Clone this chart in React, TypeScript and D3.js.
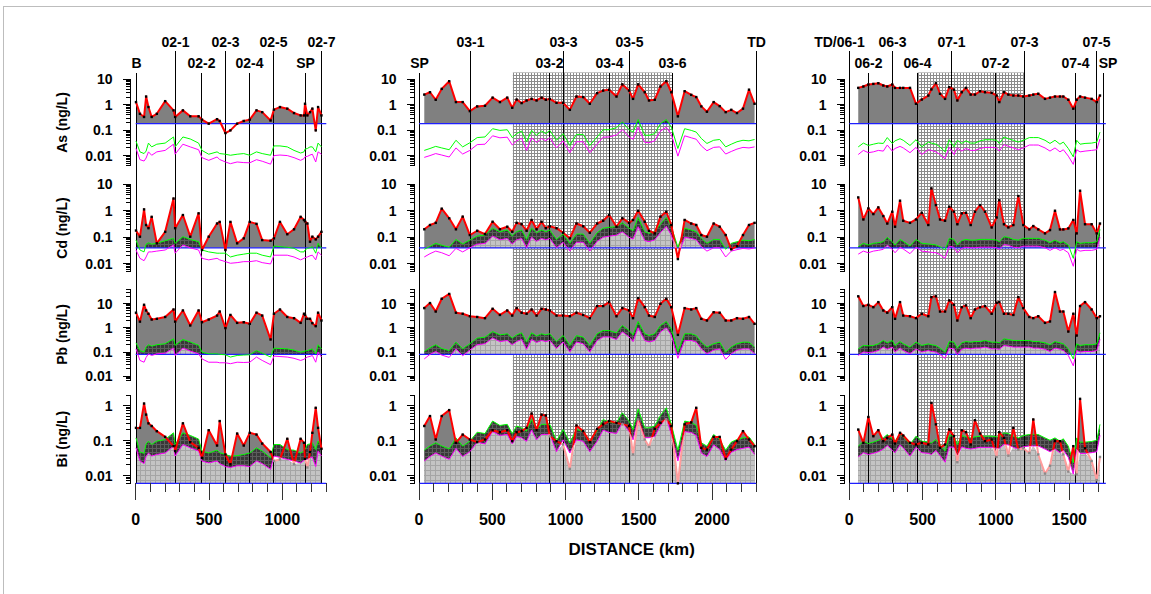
import React from 'react';
import * as d3 from 'd3';

// ---------------- DATA ----------------
const ELEMENTS = ['As', 'Cd', 'Pb', 'Bi'];
const ELEMENT_DOMAINS = [[0.004, 10], [0.005, 10], [0.007, 40], [0.006, 2]];
const DETECTION_LIMITS = [0.18, 0.04, 0.08, 0.006];

// Left section (2002)
const LEFT_KM = [2, 29, 57, 71, 87, 109, 144, 201, 258, 269, 322, 372, 429, 452, 498, 555, 573, 612, 646, 692, 737, 778, 824, 863, 920, 943, 984, 1034, 1080, 1125, 1148, 1155, 1171, 1189, 1205, 1228, 1244, 1267];
const LEFT_AS = [1.27, 0.44, 0.33, 2.1, 0.81, 0.33, 0.44, 1.38, 0.6, 0.33, 0.6, 0.35, 0.35, 0.26, 0.18, 0.27, 0.23, 0.077, 0.098, 0.18, 0.23, 0.26, 0.6, 0.51, 0.24, 0.64, 0.81, 0.7, 0.47, 0.38, 0.38, 1.09, 0.38, 0.51, 0.7, 0.098, 0.81, 0.38];
const LEFT_AS_HI = [0.037, 0.014, 0.012, 0.015, 0.031, 0.022, 0.028, 0.031, 0.054, 0.022, 0.054, 0.045, 0.031, 0.016, 0.0113, 0.014, 0.012, 0.0113, 0.0103, 0.0113, 0.012, 0.0103, 0.014, 0.012, 0.0103, 0.024, 0.024, 0.022, 0.016, 0.0126, 0.014, 0.018, 0.019, 0.022, 0.022, 0.014, 0.031, 0.022];
const LEFT_AS_LO = [0.019, 0.0069, 0.0061, 0.008, 0.014, 0.0103, 0.014, 0.016, 0.028, 0.0113, 0.028, 0.022, 0.017, 0.0083, 0.0065, 0.0088, 0.007, 0.0056, 0.0048, 0.0056, 0.0053, 0.0052, 0.0069, 0.006, 0.0046, 0.01, 0.0105, 0.01, 0.0083, 0.0065, 0.0076, 0.009, 0.0093, 0.0105, 0.0113, 0.0056, 0.014, 0.0113];
const LEFT_CD = [0.18, 0.105, 1.13, 0.29, 0.22, 0.59, 0.059, 0.16, 2.9, 0.22, 0.69, 0.105, 0.8, 0.033, 0.105, 0.33, 0.38, 0.033, 0.38, 0.059, 0.091, 0.38, 0.32, 0.078, 0.074, 0.091, 0.38, 0.13, 0.2, 0.59, 0.45, 0.4, 0.33, 0.068, 0.105, 0.083, 0.105, 0.16];
const LEFT_CD_HI = [0.078, 0.033, 0.028, 0.055, 0.062, 0.055, 0.059, 0.074, 0.091, 0.059, 0.105, 0.083, 0.068, 0.033, 0.028, 0.025, 0.025, 0.025, 0.018, 0.021, 0.023, 0.025, 0.025, 0.021, 0.018, 0.047, 0.044, 0.042, 0.038, 0.028, 0.028, 0.033, 0.038, 0.04, 0.044, 0.025, 0.059, 0.038];
const LEFT_CD_LO = [0.033, 0.016, 0.013, 0.018, 0.028, 0.028, 0.03, 0.033, 0.051, 0.025, 0.051, 0.04, 0.033, 0.016, 0.014, 0.016, 0.014, 0.012, 0.0104, 0.011, 0.012, 0.012, 0.013, 0.011, 0.0098, 0.021, 0.021, 0.021, 0.018, 0.014, 0.016, 0.017, 0.018, 0.02, 0.021, 0.014, 0.028, 0.021];
const LEFT_PB = [4.2, 1.8, 8.9, 5.2, 3.8, 2.2, 2.35, 2.8, 5.7, 1.8, 5.2, 1.25, 5.2, 1.7, 2.2, 3.2, 4.7, 0.97, 3.4, 1.6, 1.7, 1.46, 4.2, 3.2, 0.33, 3.8, 5.7, 2.8, 2.5, 1.6, 3.8, 3.4, 2.35, 2.35, 1.56, 1.17, 4.2, 2.0];
const LEFT_PB_HI = [0.24, 0.115, 0.099, 0.16, 0.2, 0.175, 0.2, 0.22, 0.35, 0.19, 0.33, 0.26, 0.19, 0.099, 0.084, 0.084, 0.08, 0.077, 0.062, 0.072, 0.075, 0.077, 0.115, 0.09, 0.062, 0.145, 0.14, 0.135, 0.12, 0.099, 0.105, 0.11, 0.115, 0.125, 0.135, 0.084, 0.2, 0.135];
const LEFT_PB_LO = [0.135, 0.045, 0.038, 0.06, 0.084, 0.072, 0.084, 0.09, 0.145, 0.072, 0.145, 0.11, 0.084, 0.052, 0.038, 0.038, 0.036, 0.036, 0.033, 0.038, 0.037, 0.038, 0.062, 0.045, 0.03, 0.068, 0.065, 0.062, 0.055, 0.045, 0.05, 0.055, 0.062, 0.066, 0.072, 0.038, 0.099, 0.062];
const LEFT_BI = [0.23, 0.23, 1.14, 0.55, 0.31, 0.26, 0.185, 0.127, 0.069, 0.05, 0.31, 0.09, 0.062, 0.032, 0.197, 0.072, 0.36, 0.04, 0.021, 0.158, 0.072, 0.166, 0.148, 0.082, 0.047, 0.026, 0.029, 0.112, 0.021, 0.112, 0.086, 0.03, 0.017, 0.047, 0.166, 0.86, 0.23, 0.058];
const LEFT_BI_HI = [0.119, 0.047, 0.043, 0.08, 0.096, 0.077, 0.096, 0.107, 0.166, 0.077, 0.166, 0.14, 0.11, 0.05, 0.044, 0.053, 0.045, 0.04, 0.036, 0.037, 0.04, 0.044, 0.062, 0.05, 0.032, 0.077, 0.077, 0.055, 0.053, 0.044, 0.05, 0.055, 0.077, 0.08, 0.086, 0.055, 0.096, 0.069];
const LEFT_BI_LO = [0.062, 0.026, 0.022, 0.035, 0.044, 0.036, 0.04, 0.044, 0.069, 0.036, 0.077, 0.062, 0.05, 0.026, 0.023, 0.026, 0.022, 0.018, 0.017, 0.019, 0.019, 0.018, 0.026, 0.022, 0.015, 0.036, 0.033, 0.029, 0.026, 0.023, 0.027, 0.029, 0.029, 0.032, 0.034, 0.018, 0.05, 0.036];
const LEFT_STATIONS = ['B', '02-1', '02-2', '02-3', '02-4', '02-5', 'SP', '02-7'];
const LEFT_STATION_KM = [5, 269, 447, 612, 778, 943, 1155, 1265];
const LEFT_STATION_TIER = [1, 0, 1, 0, 1, 0, 1, 0];

// Middle section (2003)
const MID_KM = [36, 75, 114, 155, 206, 252, 298, 347, 397, 450, 502, 552, 602, 636, 666, 700, 734, 768, 802, 836, 865, 892, 938, 983, 1029, 1074, 1120, 1165, 1215, 1256, 1297, 1347, 1387, 1433, 1460, 1495, 1540, 1569, 1608, 1647, 1687, 1721, 1766, 1812, 1857, 1891, 1926, 1964, 2010, 2051, 2092, 2130, 2169, 2210, 2251, 2289];
const MID_AS = [2.5, 3.1, 1.57, 4.2, 8.4, 1.27, 1.27, 0.56, 0.86, 0.91, 1.9, 1.27, 1.9, 0.76, 1.6, 1.16, 1.47, 1.7, 1.47, 1.9, 1.57, 1.7, 1.19, 1.19, 0.63, 2.1, 2.0, 1.09, 2.85, 3.6, 3.9, 2.1, 6.3, 3.6, 1.7, 6.3, 3.1, 1.47, 1.57, 5.2, 8.4, 3.1, 0.35, 3.4, 2.45, 2.0, 0.86, 0.53, 1.27, 0.88, 0.51, 0.63, 0.47, 0.7, 3.9, 1.09];
const MID_AS_HI = [0.016, 0.019, 0.023, 0.02, 0.017, 0.04, 0.022, 0.032, 0.051, 0.054, 0.114, 0.098, 0.104, 0.051, 0.073, 0.092, 0.035, 0.098, 0.063, 0.092, 0.073, 0.098, 0.04, 0.073, 0.025, 0.068, 0.068, 0.025, 0.054, 0.104, 0.104, 0.125, 0.21, 0.104, 0.084, 0.26, 0.063, 0.063, 0.073, 0.18, 0.26, 0.132, 0.019, 0.114, 0.098, 0.084, 0.047, 0.03, 0.04, 0.043, 0.022, 0.028, 0.035, 0.04, 0.038, 0.043];
const MID_AS_LO = [0.0085, 0.01, 0.012, 0.0105, 0.0088, 0.02, 0.0115, 0.016, 0.027, 0.028, 0.06, 0.05, 0.053, 0.026, 0.038, 0.048, 0.016, 0.05, 0.033, 0.047, 0.038, 0.05, 0.02, 0.038, 0.013, 0.035, 0.035, 0.013, 0.028, 0.053, 0.054, 0.065, 0.105, 0.054, 0.044, 0.13, 0.033, 0.032, 0.038, 0.092, 0.13, 0.068, 0.0095, 0.06, 0.05, 0.044, 0.024, 0.0155, 0.021, 0.022, 0.0115, 0.0145, 0.018, 0.021, 0.02, 0.022];
const MID_CD = [0.2, 0.29, 0.35, 1.2, 0.52, 0.2, 0.6, 0.121, 0.176, 0.132, 0.385, 0.2, 0.25, 0.162, 0.35, 0.31, 0.176, 0.45, 0.2, 0.385, 0.22, 0.26, 0.22, 0.148, 0.091, 0.33, 0.26, 0.148, 0.33, 0.42, 0.69, 0.25, 0.52, 0.35, 0.45, 1.0, 0.385, 0.176, 0.14, 0.6, 0.92, 0.29, 0.015, 0.45, 0.33, 0.29, 0.121, 0.105, 0.33, 0.25, 0.121, 0.035, 0.046, 0.121, 0.29, 0.35];
const MID_CD_HI = [0.035, 0.045, 0.059, 0.05, 0.042, 0.083, 0.056, 0.078, 0.111, 0.121, 0.22, 0.162, 0.187, 0.111, 0.162, 0.187, 0.083, 0.22, 0.148, 0.187, 0.162, 0.187, 0.083, 0.132, 0.059, 0.132, 0.132, 0.059, 0.148, 0.22, 0.237, 0.25, 0.35, 0.22, 0.176, 0.56, 0.162, 0.14, 0.162, 0.31, 0.56, 0.25, 0.042, 0.22, 0.187, 0.162, 0.091, 0.059, 0.083, 0.083, 0.035, 0.059, 0.068, 0.078, 0.074, 0.083];
const MID_CD_LO = [0.018, 0.024, 0.03, 0.026, 0.02, 0.038, 0.028, 0.04, 0.055, 0.058, 0.11, 0.08, 0.09, 0.055, 0.08, 0.09, 0.04, 0.1, 0.07, 0.09, 0.08, 0.09, 0.04, 0.065, 0.03, 0.065, 0.065, 0.03, 0.07, 0.1, 0.11, 0.12, 0.16, 0.1, 0.085, 0.25, 0.075, 0.068, 0.08, 0.15, 0.26, 0.12, 0.02, 0.1, 0.09, 0.08, 0.045, 0.03, 0.04, 0.04, 0.018, 0.03, 0.034, 0.038, 0.036, 0.04];
const MID_PB = [6.5, 10.5, 4.7, 15.8, 25, 4.2, 3.8, 3.0, 2.8, 2.5, 6.1, 3.4, 5.2, 3.2, 6.5, 4.2, 3.8, 5.7, 3.2, 6.1, 5.7, 5.2, 3.2, 3.2, 3.0, 4.2, 3.4, 2.5, 7.9, 7.9, 11.5, 3.0, 6.5, 5.2, 2.5, 16.9, 7.1, 3.2, 2.8, 9.8, 15.8, 7.1, 0.51, 6.5, 5.7, 6.5, 2.35, 2.0, 4.4, 4.2, 2.0, 2.0, 2.5, 2.35, 2.8, 1.46];
const MID_PB_HI = [0.105, 0.15, 0.2, 0.14, 0.115, 0.256, 0.136, 0.22, 0.375, 0.41, 0.7, 0.51, 0.565, 0.375, 0.51, 0.62, 0.256, 0.62, 0.46, 0.565, 0.51, 0.565, 0.27, 0.48, 0.186, 0.48, 0.41, 0.186, 0.565, 0.77, 0.77, 0.62, 1.25, 0.77, 0.51, 1.82, 0.565, 0.48, 0.565, 1.25, 1.82, 0.91, 0.105, 0.565, 0.565, 0.48, 0.256, 0.16, 0.22, 0.256, 0.1, 0.16, 0.22, 0.256, 0.256, 0.16];
const MID_PB_LO = [0.052, 0.08, 0.105, 0.075, 0.06, 0.135, 0.07, 0.12, 0.2, 0.22, 0.38, 0.27, 0.3, 0.2, 0.27, 0.33, 0.13, 0.33, 0.25, 0.3, 0.27, 0.3, 0.14, 0.26, 0.1, 0.26, 0.22, 0.1, 0.3, 0.42, 0.42, 0.33, 0.68, 0.42, 0.27, 1.0, 0.3, 0.26, 0.3, 0.68, 1.0, 0.5, 0.055, 0.3, 0.3, 0.26, 0.135, 0.085, 0.12, 0.135, 0.05, 0.085, 0.12, 0.135, 0.135, 0.085];
const MID_BI = [0.26, 0.5, 0.107, 0.5, 0.74, 0.086, 0.148, 0.107, 0.09, 0.107, 0.197, 0.173, 0.197, 0.096, 0.173, 0.185, 0.23, 0.59, 0.197, 0.55, 0.52, 0.133, 0.096, 0.077, 0.0155, 0.27, 0.185, 0.09, 0.215, 0.29, 0.36, 0.32, 0.29, 0.26, 0.04, 0.4, 0.107, 0.066, 0.215, 0.32, 0.4, 0.26, 0.0055, 0.29, 0.33, 0.86, 0.062, 0.055, 0.127, 0.127, 0.03, 0.055, 0.096, 0.185, 0.107, 0.069];
const MID_BI_HI = [0.053, 0.07, 0.086, 0.07, 0.058, 0.119, 0.069, 0.096, 0.173, 0.158, 0.36, 0.27, 0.29, 0.158, 0.26, 0.23, 0.185, 0.4, 0.206, 0.29, 0.29, 0.29, 0.096, 0.206, 0.086, 0.206, 0.185, 0.096, 0.185, 0.4, 0.33, 0.32, 0.62, 0.36, 0.206, 0.8, 0.23, 0.23, 0.26, 0.52, 0.86, 0.29, 0.053, 0.36, 0.33, 0.27, 0.086, 0.069, 0.148, 0.107, 0.053, 0.09, 0.107, 0.119, 0.127, 0.077];
const MID_BI_LO = [0.026, 0.035, 0.044, 0.036, 0.029, 0.06, 0.035, 0.048, 0.09, 0.08, 0.18, 0.14, 0.15, 0.08, 0.13, 0.12, 0.095, 0.2, 0.105, 0.15, 0.15, 0.15, 0.048, 0.105, 0.044, 0.105, 0.095, 0.048, 0.095, 0.2, 0.17, 0.16, 0.32, 0.18, 0.105, 0.42, 0.12, 0.12, 0.13, 0.27, 0.44, 0.15, 0.026, 0.18, 0.17, 0.14, 0.044, 0.035, 0.075, 0.055, 0.027, 0.046, 0.055, 0.06, 0.065, 0.04];
const MID_STATIONS = ['SP', '03-1', '03-2', '03-3', '03-4', '03-5', '03-6', 'TD'];
const MID_STATION_KM = [0, 350, 892, 983, 1297, 1433, 1728, 2300];
const MID_STATION_TIER = [1, 0, 1, 0, 1, 0, 1, 0];
const MID_SHADED_KM = [640, 1728];

// Right section (2006-2007)
const RIGHT_KM = [61, 96, 130, 164, 198, 232, 259, 293, 312, 346, 368, 414, 455, 494, 539, 560, 591, 619, 653, 682, 714, 737, 767, 796, 828, 857, 892, 926, 971, 1005, 1023, 1055, 1085, 1119, 1153, 1187, 1228, 1255, 1289, 1335, 1369, 1403, 1437, 1460, 1494, 1528, 1551, 1574, 1608, 1653, 1688, 1710];
const RIGHT_AS = [4.6, 5.2, 6.25, 6.6, 7.0, 5.7, 5.2, 6.25, 4.6, 4.6, 4.6, 4.6, 1.09, 1.6, 2.3, 4.0, 7.0, 2.7, 1.7, 4.9, 3.9, 1.47, 3.1, 4.6, 2.5, 2.5, 3.4, 3.1, 2.95, 2.3, 1.27, 3.1, 2.5, 2.3, 2.3, 2.1, 2.3, 2.5, 2.7, 1.7, 1.9, 2.1, 2.1, 2.1, 1.57, 0.7, 1.57, 2.1, 1.9, 1.7, 1.27, 2.3];
const RIGHT_AS_HI = [0.022, 0.031, 0.025, 0.028, 0.031, 0.03, 0.051, 0.03, 0.038, 0.046, 0.04, 0.025, 0.042, 0.022, 0.034, 0.031, 0.028, 0.022, 0.014, 0.042, 0.022, 0.04, 0.03, 0.038, 0.031, 0.031, 0.038, 0.042, 0.042, 0.04, 0.03, 0.054, 0.046, 0.04, 0.034, 0.04, 0.051, 0.051, 0.051, 0.04, 0.03, 0.04, 0.028, 0.034, 0.019, 0.0089, 0.04, 0.028, 0.03, 0.031, 0.034, 0.084];
const RIGHT_AS_LO = [0.011, 0.016, 0.013, 0.014, 0.016, 0.015, 0.026, 0.015, 0.019, 0.023, 0.02, 0.013, 0.021, 0.011, 0.017, 0.016, 0.014, 0.011, 0.0075, 0.021, 0.011, 0.02, 0.015, 0.019, 0.016, 0.016, 0.019, 0.021, 0.021, 0.02, 0.015, 0.027, 0.023, 0.02, 0.017, 0.02, 0.026, 0.026, 0.026, 0.02, 0.015, 0.02, 0.014, 0.017, 0.0095, 0.0045, 0.017, 0.014, 0.015, 0.016, 0.017, 0.045];
const RIGHT_CD = [3.2, 0.47, 1.23, 0.75, 1.34, 0.63, 0.33, 0.92, 0.25, 2.4, 0.42, 0.35, 0.47, 0.84, 0.29, 7.0, 1.64, 0.47, 0.42, 1.42, 0.92, 0.31, 0.8, 0.84, 0.29, 0.92, 1.64, 0.92, 0.235, 0.56, 2.5, 0.31, 0.235, 0.29, 3.6, 0.29, 0.198, 0.265, 0.198, 0.14, 0.187, 1.0, 0.198, 0.198, 0.216, 0.45, 0.14, 5.7, 0.31, 0.31, 0.14, 0.33];
const RIGHT_CD_HI = [0.044, 0.059, 0.051, 0.059, 0.062, 0.068, 0.099, 0.068, 0.051, 0.083, 0.07, 0.047, 0.083, 0.059, 0.056, 0.054, 0.051, 0.044, 0.033, 0.091, 0.083, 0.051, 0.075, 0.083, 0.078, 0.078, 0.083, 0.083, 0.083, 0.078, 0.068, 0.105, 0.099, 0.083, 0.078, 0.091, 0.091, 0.091, 0.091, 0.078, 0.062, 0.078, 0.062, 0.068, 0.051, 0.016, 0.068, 0.059, 0.062, 0.062, 0.068, 0.198];
const RIGHT_CD_LO = [0.023, 0.03, 0.026, 0.03, 0.032, 0.035, 0.05, 0.035, 0.026, 0.042, 0.036, 0.024, 0.042, 0.03, 0.028, 0.027, 0.026, 0.022, 0.016, 0.046, 0.042, 0.026, 0.038, 0.042, 0.04, 0.04, 0.042, 0.042, 0.042, 0.04, 0.035, 0.053, 0.05, 0.042, 0.04, 0.046, 0.046, 0.046, 0.046, 0.04, 0.032, 0.04, 0.032, 0.035, 0.026, 0.008, 0.035, 0.03, 0.032, 0.032, 0.035, 0.1];
const RIGHT_PB = [20, 7.9, 8.9, 7.1, 11.5, 5.2, 4.2, 7.1, 2.35, 11.5, 3.2, 3.0, 2.5, 3.8, 3.0, 18.5, 20, 4.7, 4.7, 13.5, 8.9, 2.0, 7.1, 8.4, 2.5, 5.7, 7.1, 7.9, 3.8, 10.8, 11.5, 3.8, 3.8, 3.4, 18.5, 6.5, 2.8, 2.5, 3.0, 1.6, 1.83, 30, 4.7, 4.7, 0.7, 3.8, 0.48, 7.9, 11.5, 5.7, 2.5, 3.0];
const RIGHT_PB_HI = [0.136, 0.186, 0.18, 0.186, 0.218, 0.3, 0.24, 0.3, 0.186, 0.27, 0.22, 0.159, 0.256, 0.186, 0.218, 0.2, 0.186, 0.145, 0.099, 0.27, 0.256, 0.145, 0.24, 0.27, 0.256, 0.27, 0.27, 0.3, 0.256, 0.256, 0.24, 0.35, 0.33, 0.3, 0.3, 0.3, 0.3, 0.27, 0.27, 0.24, 0.2, 0.27, 0.24, 0.218, 0.136, 0.052, 0.218, 0.186, 0.2, 0.2, 0.218, 0.62];
const RIGHT_PB_LO = [0.072, 0.1, 0.095, 0.1, 0.115, 0.16, 0.13, 0.16, 0.1, 0.145, 0.115, 0.085, 0.135, 0.1, 0.115, 0.105, 0.1, 0.078, 0.055, 0.145, 0.135, 0.078, 0.13, 0.145, 0.135, 0.145, 0.145, 0.16, 0.135, 0.135, 0.13, 0.185, 0.175, 0.16, 0.16, 0.16, 0.16, 0.145, 0.145, 0.13, 0.105, 0.145, 0.13, 0.115, 0.072, 0.027, 0.115, 0.1, 0.105, 0.105, 0.115, 0.33];
const RIGHT_BI = [0.206, 0.086, 0.47, 0.133, 0.197, 0.096, 0.119, 0.148, 0.082, 0.166, 0.139, 0.086, 0.077, 0.086, 0.077, 1.19, 0.29, 0.062, 0.077, 0.206, 0.133, 0.024, 0.197, 0.173, 0.077, 0.38, 0.158, 0.096, 0.107, 0.034, 0.173, 0.119, 0.037, 0.23, 0.055, 0.06, 0.044, 0.4, 0.04, 0.0114, 0.019, 0.096, 0.096, 0.04, 0.013, 0.069, 0.0107, 1.55, 0.06, 0.026, 0.0074, 0.034];
const RIGHT_BI_HI = [0.069, 0.096, 0.082, 0.09, 0.102, 0.119, 0.148, 0.112, 0.096, 0.158, 0.13, 0.077, 0.133, 0.096, 0.09, 0.085, 0.107, 0.077, 0.05, 0.139, 0.133, 0.077, 0.139, 0.127, 0.119, 0.127, 0.133, 0.133, 0.133, 0.127, 0.127, 0.166, 0.158, 0.133, 0.119, 0.139, 0.148, 0.148, 0.148, 0.119, 0.102, 0.119, 0.096, 0.112, 0.069, 0.023, 0.119, 0.09, 0.09, 0.094, 0.102, 0.29];
const RIGHT_BI_LO = [0.034, 0.045, 0.04, 0.043, 0.048, 0.057, 0.072, 0.053, 0.045, 0.075, 0.062, 0.036, 0.064, 0.045, 0.043, 0.04, 0.052, 0.037, 0.024, 0.066, 0.064, 0.037, 0.066, 0.06, 0.057, 0.06, 0.064, 0.064, 0.064, 0.06, 0.06, 0.078, 0.075, 0.064, 0.057, 0.066, 0.07, 0.07, 0.07, 0.057, 0.048, 0.057, 0.045, 0.053, 0.033, 0.011, 0.057, 0.043, 0.043, 0.045, 0.048, 0.14];
const RIGHT_STATIONS = ['TD/06-1', '06-2', '06-3', '06-4', '07-1', '07-2', '07-3', '07-4', '07-5', 'SP'];
const RIGHT_STATION_KM = [0, 130, 293, 466, 698, 998, 1198, 1542, 1685, 1737];
const RIGHT_STATION_TIER = [0, 1, 0, 1, 0, 1, 0, 1, 0, 1];
const RIGHT_SHADED_KM = [466, 1198];

const X_LABEL = 'DISTANCE (km)';

// ---------------- LAYOUT ----------------
const W = 1151, H = 594;
const KM_PX = 0.1466;
const ROW_TOP = [79.3, 184.3, 289, 395];
const ROW_BOTTOM = [165.7, 271.7, 380, 483.3];
const FONT = '"Liberation Sans", Arial, Helvetica, sans-serif';
const TIER_LABEL_Y = [46.5, 68.3];
const TIER_LINE_Y = [50.5, 72.5];
const SHADE_TOP = 72.5;

const PANELS = [
  {
    x0: 135.7, maxKm: 1300, tickMax: 1300, km: LEFT_KM,
    series: [[LEFT_AS, LEFT_AS_HI, LEFT_AS_LO], [LEFT_CD, LEFT_CD_HI, LEFT_CD_LO], [LEFT_PB, LEFT_PB_HI, LEFT_PB_LO], [LEFT_BI, LEFT_BI_HI, LEFT_BI_LO]],
    stations: LEFT_STATIONS, stationKm: LEFT_STATION_KM, tiers: LEFT_STATION_TIER,
    shaded: null as number[] | null, labelDx: {} as Record<string, number>, titles: true,
  },
  {
    x0: 419, maxKm: 2300, tickMax: 2300, km: MID_KM,
    series: [[MID_AS, MID_AS_HI, MID_AS_LO], [MID_CD, MID_CD_HI, MID_CD_LO], [MID_PB, MID_PB_HI, MID_PB_LO], [MID_BI, MID_BI_HI, MID_BI_LO]],
    stations: MID_STATIONS, stationKm: MID_STATION_KM, tiers: MID_STATION_TIER,
    shaded: MID_SHADED_KM, labelDx: {} as Record<string, number>, titles: false,
  },
  {
    x0: 849.3, maxKm: 1750, tickMax: 1700, km: RIGHT_KM,
    series: [[RIGHT_AS, RIGHT_AS_HI, RIGHT_AS_LO], [RIGHT_CD, RIGHT_CD_HI, RIGHT_CD_LO], [RIGHT_PB, RIGHT_PB_HI, RIGHT_PB_LO], [RIGHT_BI, RIGHT_BI_HI, RIGHT_BI_LO]],
    stations: RIGHT_STATIONS, stationKm: RIGHT_STATION_KM, tiers: RIGHT_STATION_TIER,
    shaded: RIGHT_SHADED_KM, labelDx: { 'TD/06-1': -10, 'SP': 4.5 } as Record<string, number>, titles: false,
  },
];

const fmt = d3.format('~g');
const snap = (v: number) => Math.round(v - 0.5) + 0.5;

function Panel({ p, pi }: { p: typeof PANELS[number]; pi: number }) {
  const x = d3.scaleLinear().domain([0, p.maxKm]).range([p.x0, p.x0 + p.maxKm * KM_PX]);
  const ax = snap(x(0) - 5);
  const bottomY = ROW_BOTTOM[3];

  const rows = ELEMENTS.map((el, r) => {
    const top = ROW_TOP[r], bot = ROW_BOTTOM[r];
    const y = d3.scaleLog().domain(ELEMENT_DOMAINS[r]).range([bot, top]).clamp(true);
    const blueY = y(DETECTION_LIMITS[r]);
    const [red, hi, lo] = p.series[r];
    const pts = p.km.map((k, i) => ({ x: x(k), r: red[i], g: hi[i], m: lo[i] }));
    const padPts = [{ ...pts[0], x: pts[0].x - 4 }, ...pts, { ...pts[pts.length - 1], x: pts[pts.length - 1].x + 4 }];
    const magTop = (d: any) => Math.min(y(d.m), blueY);
    const gray = d3.area<any>().x(d => d.x).y0(bot).y1(d => y(d.r))(pts) || '';
    const light = d3.area<any>().x(d => d.x).y0(bot).y1(d => y(Math.min(d.m, d.r)))(pts) || '';
    const white = d3.area<any>().x(d => d.x).y0(d => y(d.m)).y1(d => y(Math.min(d.r, d.m)))(pts) || '';
    const dark = d3.area<any>().x(d => d.x).y0(d => y(d.m)).y1(d => y(d.g))(pts) || '';
    const fullClip = d3.area<any>().x(d => d.x).y0(top - 40).y1(magTop)(padPts) || '';
    const fadeClip = d3.area<any>().x(d => d.x).y0(blueY).y1(magTop)(padPts) || '';
    const redLine = d3.line<any>().x(d => d.x).y(d => y(d.r))(pts) || '';
    const greenLine = d3.line<any>().x(d => d.x).y(d => y(d.g))(pts) || '';
    const magLine = d3.line<any>().x(d => d.x).y(d => y(d.m))(pts) || '';
    const ticks = y.ticks();
    const clipId = `clip-${pi}-${r}`;
    return { el, r, top, bot, y, blueY, pts, gray, light, white, dark, fullClip, fadeClip, redLine, greenLine, magLine, ticks, clipId };
  });

  return (
    <g>
      <defs>
        {rows.map(R => (
          <React.Fragment key={R.clipId}>
            <clipPath id={R.clipId}>
              <rect x={x(0) - 2} y={R.top - 20} width={x(p.maxKm) - x(0) + 4} height={R.blueY - (R.top - 20)} />
            </clipPath>
            <clipPath id={R.clipId + '-full'}>
              <path d={R.fullClip} />
              <rect x={x(0) - 10} y={R.blueY} width={x(p.maxKm) - x(0) + 20} height={R.bot - R.blueY + 40} />
            </clipPath>
            <clipPath id={R.clipId + '-fade'}>
              <path d={R.fadeClip} />
            </clipPath>
          </React.Fragment>
        ))}
      </defs>

      {p.shaded && (
        <rect x={x(p.shaded[0])} y={SHADE_TOP} width={x(p.shaded[1]) - x(p.shaded[0])} height={bottomY - SHADE_TOP} fill="url(#meshShade)" />
      )}

      {rows.map(R => (
        <g key={'f' + R.r} clipPath={`url(#${R.clipId})`}>
          <path d={R.gray} fill="#808080" />
          <path d={R.light} fill="url(#lightFill)" />
          <path d={R.white} fill="#ffffff" />
          <path d={R.dark} fill="url(#darkBand)" />
        </g>
      ))}

      {p.stations.map((s, i) => {
        const sx = snap(x(p.stationKm[i]));
        const t = p.tiers[i];
        return (
          <g key={'s' + i}>
            <line x1={sx} x2={sx} y1={TIER_LINE_Y[t]} y2={bottomY} stroke="#000" strokeWidth={1} shapeRendering="crispEdges" />
            <text x={sx + (p.labelDx[s] || 0)} y={TIER_LABEL_Y[t]} textAnchor="middle" fontFamily={FONT} fontWeight="bold" fontSize={14} fill="#000">{s}</text>
          </g>
        );
      })}

      {rows.map(R => (
        <g key={'l' + R.r}>
          <line x1={x(0)} x2={x(p.maxKm)} y1={R.blueY} y2={R.blueY} stroke="#1f1fff" strokeWidth={1.3} />
          <path d={R.greenLine} fill="none" stroke="#00ff00" strokeWidth={1} />
          <path d={R.magLine} fill="none" stroke="#ff00ff" strokeWidth={1} />
          <path d={R.redLine} fill="none" stroke="#ff0000" strokeWidth={2} strokeLinejoin="round" clipPath={`url(#${R.clipId}-full)`} />
          <path d={R.redLine} fill="none" stroke="#ff9c9c" strokeWidth={2} strokeLinejoin="round" clipPath={`url(#${R.clipId}-fade)`} />
          {R.pts.map((d, i) => {
            const faded = d.r < d.m && d.r > DETECTION_LIMITS[R.r];
            return <rect key={i} x={d.x - 1.2} y={R.y(d.r) - 1.2} width={2.4} height={2.4} fill={faded ? '#8a8a8a' : '#000'} />;
          })}
          {/* y axis */}
          <line x1={ax} x2={ax} y1={R.top} y2={R.bot} stroke="#000" strokeWidth={1} shapeRendering="crispEdges" />
          {R.ticks.map((t, i) => {
            const lg = Math.log10(t);
            const major = Math.abs(lg - Math.round(lg)) < 1e-6;
            const ty = snap(R.y(t));
            return (
              <g key={i}>
                <line x1={ax - (major ? 8 : 4.5)} x2={ax} y1={ty} y2={ty} stroke="#000" strokeWidth={1} shapeRendering="crispEdges" />
                {major && (
                  <text x={ax - 18} y={R.y(t)} dy="0.36em" textAnchor="end" fontFamily={FONT} fontWeight="bold" fontSize={14} fill="#000">{fmt(t)}</text>
                )}
              </g>
            );
          })}
          {p.titles && (
            <text transform={`translate(${ax - 64},${(R.top + R.bot) / 2}) rotate(-90)`} textAnchor="middle" fontFamily={FONT} fontWeight="bold" fontSize={14} fill="#000">{`${R.el} (ng/L)`}</text>
          )}
        </g>
      ))}

      {/* x axis */}
      {d3.range(0, p.tickMax + 1, 100).map(k => {
        const major = k % 500 === 0;
        const tx = snap(x(k));
        return (
          <g key={'x' + k}>
            <line x1={tx} x2={tx} y1={bottomY} y2={bottomY + (major ? 17 : 9)} stroke="#333" strokeWidth={1} shapeRendering="crispEdges" />
            {major && (
              <text x={x(k)} y={525} textAnchor="middle" fontFamily={FONT} fontWeight="bold" fontSize={16} fill="#000">{k}</text>
            )}
          </g>
        );
      })}
    </g>
  );
}

export default function App() {
  return (
    <svg width={W} height={H} viewBox={`0 0 ${W} ${H}`} style={{ position: 'absolute', left: 0, top: 0, background: '#fff' }}>
      <defs>
        <pattern id="meshShade" width={3} height={3} patternUnits="userSpaceOnUse">
          <rect width={3} height={3} fill="#ffffff" />
          <path d="M0 0.5H3M0.5 0V3" stroke="#8c8c8c" strokeWidth={1} />
        </pattern>
        <pattern id="darkBand" width={4} height={4} patternUnits="userSpaceOnUse">
          <rect width={4} height={4} fill="#383838" />
          <path d="M0 0.5H4M0.5 0V4" stroke="#5c5c5c" strokeWidth={1} />
        </pattern>
        <pattern id="lightFill" width={5} height={5} patternUnits="userSpaceOnUse">
          <rect width={5} height={5} fill="#c4c4c4" />
          <path d="M0 0.5H5M0.5 0V5" stroke="#a5a5a5" strokeWidth={1} />
        </pattern>
      </defs>
      <rect x={0} y={0} width={W} height={H} fill="#fff" />
      <rect x={3.5} y={6.5} width={1300} height={800} fill="none" stroke="#bdbdbd" strokeWidth={1} />
      {PANELS.map((p, i) => <Panel key={i} p={p} pi={i} />)}
      <text x={631.7} y={555} textAnchor="middle" fontFamily={FONT} fontWeight="bold" fontSize={17} fill="#000">{X_LABEL}</text>
    </svg>
  );
}
